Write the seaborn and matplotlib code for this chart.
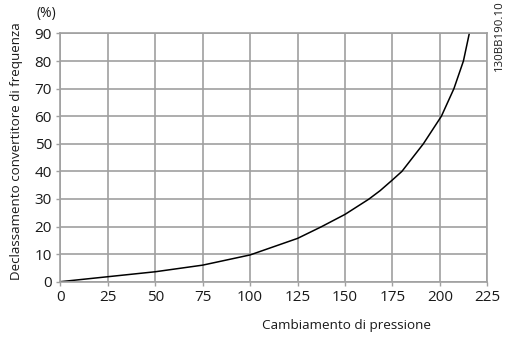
import matplotlib
matplotlib.use("Agg")
import matplotlib.pyplot as plt
import seaborn as sns
import pandas as pd

# Pressure change vs. frequency converter derating
pressure_change = [0, 25, 50, 75, 100, 125, 137.5, 150, 162.5, 168.5, 175, 180,
                   191.3, 200.8, 207.4, 212.4, 215.5]
derating_pct = [0, 1.8, 3.6, 6.0, 9.7, 15.7, 19.9, 24.4, 29.9, 33.0, 36.9, 40,
                50, 60, 70, 80, 90]
x_ticks = [0, 25, 50, 75, 100, 125, 150, 175, 200, 225]
y_ticks = [0, 10, 20, 30, 40, 50, 60, 70, 80, 90]

df = pd.DataFrame({"x": pressure_change, "y": derating_pct})

sns.set_theme(style="white")
plt.rcParams["font.family"] = ["Open Sans", "DejaVu Sans"]

fig = plt.figure(figsize=(5.09, 3.40), dpi=100)
ax = fig.add_axes([0.1185, 0.1715, 0.8389, 0.7300])

sns.lineplot(data=df, x="x", y="y", ax=ax, color="black", linewidth=1.1,
             sort=False, estimator=None)

ax.set_xlim(0, 225)
ax.set_ylim(0, 90)
ax.set_xticks(x_ticks)
ax.set_yticks(y_ticks)
ax.grid(True, color="#a0a0a0", linewidth=1.2)
ax.set_axisbelow(True)
for sp in ax.spines.values():
    sp.set_color("#a0a0a0")
    sp.set_linewidth(1.2)

ax.tick_params(axis="both", which="both", length=3, width=1, color="#a0a0a0",
               labelsize=11, labelcolor="#1a1a1a", pad=3, left=True, bottom=True)

ax.set_xlabel("")
ax.set_ylabel("")
fig.text(347 / 509, 1 - 325 / 340, "Cambiamento di pressione", ha="center",
         va="center", fontsize=9.7, color="#1a1a1a")
fig.text(17 / 509, 1 - 151 / 340, "Declassamento convertitore di frequenza",
         rotation=90, ha="center", va="center", fontsize=9.6, color="#1a1a1a")
fig.text(46.5 / 509, 1 - 14 / 340, "(%)", ha="center", va="center",
         fontsize=10, color="#1a1a1a")
fig.text(499 / 509, 1 - 36 / 340, "130BB190.10", rotation=90, ha="center",
         va="center", fontsize=8.2, color="#1a1a1a")

fig.savefig("out.png", dpi=100)
